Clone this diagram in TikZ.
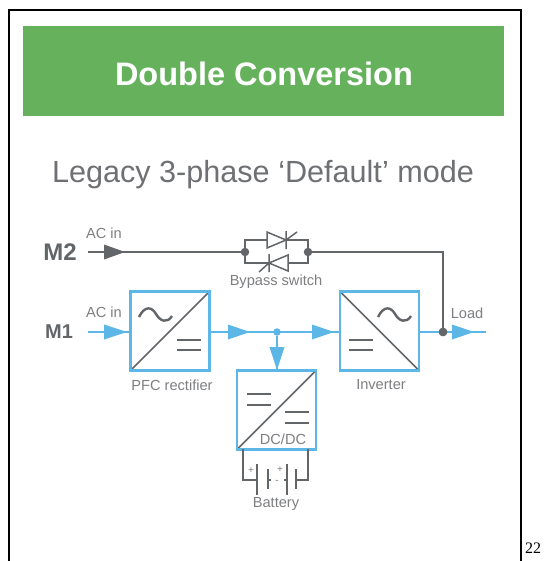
\documentclass[tikz,border=0pt]{standalone}
\usepackage{fontspec}
\setmainfont{Liberation Sans}
\newfontfamily\serifnum{Liberation Serif}
\definecolor{brand}{HTML}{66B25C}
\definecolor{sky}{HTML}{5DB7E6}
\definecolor{wire}{HTML}{636669}
\definecolor{lbl}{HTML}{7D7F82}
\definecolor{ttl}{HTML}{6E7073}
\begin{document}
\begin{tikzpicture}[x=1pt,y=-1pt,
  lab/.style={font=\fontsize{14.6}{16}\selectfont,text=lbl,inner sep=0pt},
  src/.style={font=\bfseries\fontsize{24}{26}\selectfont,text=wire,inner sep=0pt},
  conv/.style={draw=sky,line width=2.6pt,minimum width=79pt,minimum height=79pt,inner sep=0pt,outer sep=0pt},
  bw/.style={draw=wire,line width=2pt},
  bl/.style={draw=sky,line width=2pt},
  thinw/.style={draw=wire,line width=1.5pt},
  gsym/.style={draw=wire,line width=2.4pt},
  dot/.style={circle,inner sep=0pt,minimum size=8.5pt},
  headk/.style={fill=wire},
  headb/.style={fill=sky}]
\useasboundingbox (0,0) rectangle (546,561);
\fill[white] (0,0) rectangle (546,561);
\draw[black,line width=1.8pt] (9,561) -- (9,10) -- (521,10) -- (521,561);
\node[fill=brand,minimum width=481pt,minimum height=90pt,inner sep=0pt] (banner) at (263.5,71) {};
\node[text=white,font=\bfseries\fontsize{32.5}{38}\selectfont,inner sep=0pt] (title) at (264,74) {Double Conversion};
\node[text=ttl,font=\fontsize{30.6}{34}\selectfont,inner sep=0pt] (sub) at (263,175) {Legacy 3-phase ‘Default’ mode};
\node[font=\serifnum\fontsize{16}{18}\selectfont,inner sep=0pt] (pg) at (533,548) {22};

\node[conv] (pfc) at (170,331) {};
\node[conv] (inv) at (379.5,331) {};
\node[conv] (dc) at (276.5,410) {};

\coordinate (m2s) at (88,252);
\coordinate (m1s) at (88,332);
\node[dot,fill=wire] (bl1) at (245,252) {};
\node[dot,fill=wire] (br1) at (308,252) {};
\node[dot,fill=wire] (out) at (443,332) {};
\node[dot,fill=sky,minimum size=7.5pt] (bus) at (277,332) {};
\coordinate (loadend) at (486,332);

\draw[bw] (m2s) -- (bl1);
\fill[headk] (104,244.5) -- (125,252) -- (104,259.5) -- cycle;
\draw[bl] (m1s) -- (pfc.west |- m1s);
\fill[headb] (104,324.5) -- (127,332) -- (104,339.5) -- cycle;
\draw[bl] (pfc.east |- m1s) -- (inv.west |- m1s);
\fill[headb] (228,324.5) -- (250,332) -- (228,339.5) -- cycle;
\fill[headb] (312,324.5) -- (334,332) -- (312,339.5) -- cycle;
\draw[bl] (bus) -- (dc.north -| bus);
\fill[headb] (269.5,347) -- (277,370) -- (284.5,347) -- cycle;
\draw[bl] (inv.east |- m1s) -- (loadend);
\fill[headb] (452,324.5) -- (474,332) -- (452,339.5) -- cycle;
\draw[bw,line width=2.2pt] (br1) -| (out);
\node[dot,fill=wire] at (out) {};

% bypass switch
\draw[thinw] (245,252) -- (245,240) -- (267,240);
\draw[thinw] (245,252) -- (245,263) -- (269,263);
\draw[thinw] (308,252) -- (308,240) -- (286,240);
\draw[thinw] (308,252) -- (308,263) -- (288,263);
\draw[thinw,fill=white] (267,232) -- (286,240) -- (267,248) -- cycle;
\draw[thinw] (286,231) -- (286,249) (286,240) -- (297,232);
\draw[thinw,fill=white] (288,255) -- (269,263) -- (288,271) -- cycle;
\draw[thinw] (269,254) -- (269,272) (269,263) -- (259,272);

% converter symbols
\draw[draw=wire,line width=1.6pt] (pfc.south west) -- (pfc.north east);
\draw[draw=wire,line width=1.6pt] (inv.north west) -- (inv.south east);
\draw[draw=wire,line width=1.6pt] (dc.south west) -- (dc.north east);
\draw[sky,line width=2.6pt] (pfc.north west) rectangle (pfc.south east);
\draw[sky,line width=2.6pt] (inv.north west) rectangle (inv.south east);
\draw[sky,line width=2.6pt] (dc.north west) rectangle (dc.south east);
\draw[gsym] (139,317) .. controls (145,305) and (152,307) .. (156,314) .. controls (160,321) and (167,324) .. (172,316);
\draw[gsym] (378,317) .. controls (384,305) and (391,307) .. (395,314) .. controls (399,321) and (406,324) .. (411,316);
\draw[gsym] (177,340) -- (201,340) (177,350) -- (201,350);
\draw[gsym] (349,340) -- (373,340) (349,350) -- (373,350);
\draw[gsym] (247,394) -- (271,394) (247,405) -- (271,405);
\draw[gsym] (285,412) -- (309,412) (285,423) -- (309,423);
\node[lab] (dctxt) at (283,439) {DC/DC};

% battery
\coordinate (ba) at (243,449);
\coordinate (bb) at (308,449);
\draw[thinw] (ba) |- (257,480);
\draw[thinw] (bb) |- (296,480);
\draw[thinw] (268,480) -- (271,480) (287,480) -- (284,480);
\draw[thinw] (257,464) -- (257,495) (287,464) -- (287,495);
\draw[thinw] (268,469) -- (268,489) (296,469) -- (296,489);
\node[lab,font=\fontsize{10}{10}\selectfont] (p1) at (251,471) {+};
\node[lab,font=\fontsize{10}{10}\selectfont] (p2) at (280,470) {+};
\node[lab,font=\fontsize{10}{10}\selectfont] (p3) at (277,482) {-};

\node[src] (m2) at (60,252) {M2};
\node[src,font=\bfseries\fontsize{20}{24}\selectfont] (m1) at (59,332) {M1};
\node[lab] (ac2) at (104,233) {AC in};
\node[lab] (ac1) at (104,312) {AC in};
\node[lab] (byp) at (276,282) {Bypass switch};
\node[lab] (pl) at (172,385) {PFC rectifier};
\node[lab] (il) at (381,385) {Inverter};
\node[lab] (ll) at (467,313) {Load};
\node[lab] (bt) at (276,504) {Battery};
\end{tikzpicture}
\end{document}
